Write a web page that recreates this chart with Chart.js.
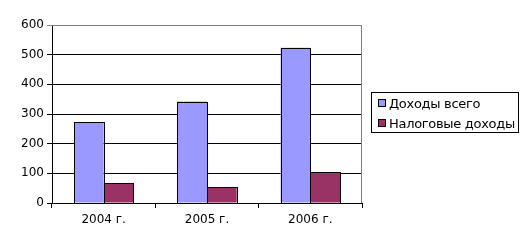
<!DOCTYPE html>
<html>
<head>
<meta charset="utf-8">
<script src="https://cdn.jsdelivr.net/npm/chart.js@4"></script>
<style>
  body { margin: 0; background: #fff; }
  #wrap { position: relative; width: 531px; height: 246px; }
  #legend {
    position: absolute; left: 371px; top: 92px; width: 148px; height: 41px;
    border: 1px solid #000; font: 13px "DejaVu Sans", sans-serif; color: #000;
    box-sizing: border-box; padding: 2px 0 0 6px; letter-spacing: -0.3px;
  }
  #legend div { height: 20px; line-height: 17px; white-space: nowrap; }
  #legend span {
    display: inline-block; width: 6px; height: 6px; border: 1px solid #000;
    margin-right: 3px; vertical-align: 1px;
  }
</style>
</head>
<body>
<div id="wrap">
  <canvas id="chart" width="531" height="246"></canvas>
  <div id="legend"></div>
</div>
<script>
var categories = ["2004 г.", "2005 г.", "2006 г."];
var seriesNames = ["Доходы всего", "Налоговые доходы"];
var totalIncome = [272, 342, 523];
var taxIncome = [67, 54, 104];
var colors = ["#9999FF", "#993366"];

var legend = document.getElementById("legend");
seriesNames.forEach(function (name, i) {
  var row = document.createElement("div");
  row.innerHTML = '<span style="background:' + colors[i] + '"></span>' + name;
  legend.appendChild(row);
});

// gray frame on top/right + crisp black outlines round the bars
var frame = {
  id: "frame",
  afterDatasetsDraw: function (chart) {
    var c = chart.ctx;
    c.save();
    c.strokeStyle = "#000";
    c.lineWidth = 1;
    chart.data.datasets.forEach(function (ds, i) {
      chart.getDatasetMeta(i).data.forEach(function (bar) {
        var x0 = Math.round(bar.x - bar.width / 2) + 0.5;
        var x1 = Math.round(bar.x + bar.width / 2) + 0.5;
        var y0 = Math.round(bar.y) + 0.5;
        var y1 = Math.round(bar.base) + 0.5;
        c.strokeRect(x0, y0, x1 - x0, y1 - y0);
      });
    });
    c.restore();
  },
  afterDraw: function (chart) {
    var a = chart.chartArea, c = chart.ctx;
    c.save();
    c.strokeStyle = "#808080";
    c.lineWidth = 1;
    c.beginPath();
    c.moveTo(a.left, a.top + 0.5);
    c.lineTo(a.right - 0.5, a.top + 0.5);
    c.lineTo(a.right - 0.5, a.bottom);
    c.stroke();
    c.restore();
  }
};

var ctx = document.getElementById("chart");

new Chart(ctx, {
  type: "bar",
  data: {
    labels: categories,
    datasets: [
      {
        label: seriesNames[0],
        data: totalIncome,
        backgroundColor: colors[0],
        borderWidth: 0
      },
      {
        label: seriesNames[1],
        data: taxIncome,
        backgroundColor: colors[1],
        borderWidth: 0
      }
    ]
  },
  plugins: [frame],
  options: {
    responsive: false,
    animation: false,
    layout: { padding: { top: 25, right: 169, left: 0, bottom: 0 } },
    plugins: {
      legend: { display: false },
      tooltip: { enabled: false }
    },
    datasets: {
      bar: { categoryPercentage: 0.575, barPercentage: 1 }
    },
    scales: {
      x: {
        offset: true,
        afterFit: function (s) { s.height = 43; },
        border: { color: "#000", width: 1 },
        grid: {
          offset: true,
          drawOnChartArea: false,
          drawTicks: true,
          tickLength: 5,
          color: "#000"
        },
        ticks: {
          color: "#000",
          padding: 5,
          font: { family: "DejaVu Sans", size: 12 }
        }
      },
      y: {
        min: 0,
        max: 600,
        afterFit: function (s) { s.width = 52; },
        border: { color: "#000", width: 1 },
        grid: {
          color: function (c) { return c.tick && c.tick.value === 600 ? "#808080" : "#000"; },
          tickLength: 5,
          drawTicks: true
        },
        ticks: {
          stepSize: 100,
          color: "#000",
          padding: 3,
          font: { family: "DejaVu Sans", size: 12 }
        }
      }
    }
  }
});
</script>
</body>
</html>
